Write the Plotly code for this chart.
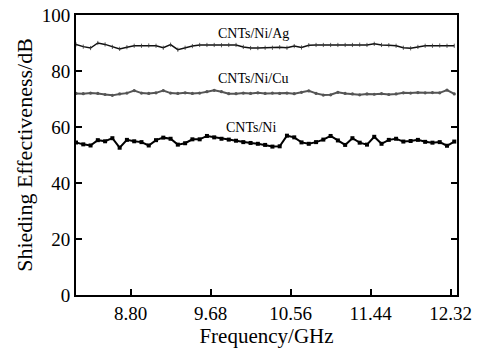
import plotly.graph_objects as go

freq = [8.20, 8.28, 8.36, 8.44, 8.52, 8.60, 8.68, 8.76, 8.84, 8.92, 9.00, 9.08, 9.16, 9.24,
        9.32, 9.40, 9.48, 9.56, 9.64, 9.72, 9.80, 9.88, 9.96, 10.04, 10.12, 10.20, 10.28,
        10.36, 10.44, 10.52, 10.60, 10.68, 10.76, 10.84, 10.92, 11.00, 11.08, 11.16, 11.24,
        11.32, 11.40, 11.48, 11.56, 11.64, 11.72, 11.80, 11.88, 11.96, 12.04, 12.12, 12.20,
        12.28, 12.36]

se_ni = [54.5, 53.8, 53.4, 55.3, 54.9, 56.0, 52.6, 55.4, 54.9, 54.6, 53.4, 55.3, 56.2, 55.8,
         53.7, 54.2, 55.6, 55.6, 56.8, 56.3, 55.8, 55.5, 55.1, 54.6, 54.3, 54.0, 53.6,
         53.0, 53.1, 56.9, 56.3, 54.5, 54.0, 54.6, 55.5, 56.8, 55.2, 53.6, 56.0,
         54.4, 53.7, 56.5, 54.0, 55.4, 55.8, 54.8, 55.0, 55.4, 54.7, 54.4, 54.6,
         53.3, 54.8]

se_cu = [72.0, 71.9, 72.1, 72.0, 71.6, 71.3, 71.8, 72.1, 73.0, 72.1, 72.0, 72.2, 73.0, 72.1,
         72.0, 72.2, 72.0, 72.1, 72.6, 73.1, 72.6, 71.9, 71.9, 72.1, 72.0, 72.2, 72.0,
         72.1, 72.0, 72.1, 71.9, 72.4, 72.9, 72.0, 71.4, 71.5, 72.4, 72.0, 71.8,
         71.5, 71.8, 71.7, 71.9, 71.6, 71.8, 72.2, 72.1, 72.3, 72.2, 72.3, 72.2,
         73.2, 71.8]

se_ag = [89.5, 88.7, 88.2, 90.0, 89.5, 88.6, 87.9, 88.5, 89.0, 89.0, 89.1, 89.0, 88.3, 89.4,
         87.6, 88.3, 88.9, 89.3, 89.3, 89.3, 89.2, 89.3, 89.3, 88.6, 88.2, 88.2, 88.3,
         88.3, 88.5, 88.3, 88.9, 88.4, 89.2, 89.3, 89.3, 89.3, 89.3, 89.3, 89.3,
         89.4, 89.3, 89.7, 89.3, 89.2, 89.0, 88.3, 88.1, 88.6, 89.0, 89.0, 89.1,
         89.0, 89.0]

x_ticks = [8.80, 9.68, 10.56, 11.44, 12.32]
x_tick_labels = ["8.80", "9.68", "10.56", "11.44", "12.32"]
y_ticks = [0, 20, 40, 60, 80, 100]

labels = ["CNTs/Ni/Ag", "CNTs/Ni/Cu", "CNTs/Ni"]
label_x = [10.15, 10.15, 10.12]
label_y = [93.3, 77.3, 59.8]

FONT = "Liberation Serif, Times New Roman, serif"

fig = go.Figure()
fig.add_trace(go.Scatter(x=freq, y=se_ni, mode="lines+markers",
                         line=dict(color="black", width=2),
                         marker=dict(symbol="square", size=4, color="black"),
                         name="CNTs/Ni"))
fig.add_trace(go.Scatter(x=freq, y=se_cu, mode="lines+markers",
                         line=dict(color="#555555", width=2),
                         marker=dict(symbol="circle", size=3.2, color="#555555"),
                         name="CNTs/Ni/Cu"))
fig.add_trace(go.Scatter(x=freq, y=se_ag, mode="lines+markers",
                         line=dict(color="#111111", width=1.5),
                         marker=dict(symbol="line-ns", size=3,
                                     line=dict(color="#333333", width=0.8)),
                         name="CNTs/Ni/Ag"))

for t, xx, yy in zip(labels, label_x, label_y):
    fig.add_annotation(x=xx, y=yy, text=t, showarrow=False,
                       font=dict(family=FONT, size=14, color="black"))

fig.update_layout(
    width=479, height=349,
    margin=dict(l=76, r=22, t=15, b=54, autoexpand=False),
    paper_bgcolor="white", plot_bgcolor="white",
    showlegend=False,
    font=dict(family=FONT, color="black"),
)
fig.update_xaxes(
    range=[8.2, 12.39], tickvals=x_ticks, ticktext=x_tick_labels,
    ticks="inside", ticklen=6, tickwidth=1.5, tickcolor="black",
    showline=True, linecolor="black", linewidth=1.8, mirror=True,
    showgrid=False, zeroline=False, automargin=False,
    tickfont=dict(family=FONT, size=19),
    title=dict(text="Frequency/GHz", font=dict(family=FONT, size=21), standoff=2),
)
fig.update_yaxes(
    range=[0, 100], tickvals=y_ticks,
    ticks="inside", ticklen=6, tickwidth=1.5, tickcolor="black",
    showline=True, linecolor="black", linewidth=1.8, mirror="ticks",
    showgrid=False, zeroline=False, automargin=False,
    tickfont=dict(family=FONT, size=19),
    title=dict(text="Shieding Effectiveness/dB", font=dict(family=FONT, size=22), standoff=3),
)

fig.write_html("out.html", config={"displayModeBar": False},
               post_script="document.body.style.margin='0';document.body.style.overflow='hidden';")
